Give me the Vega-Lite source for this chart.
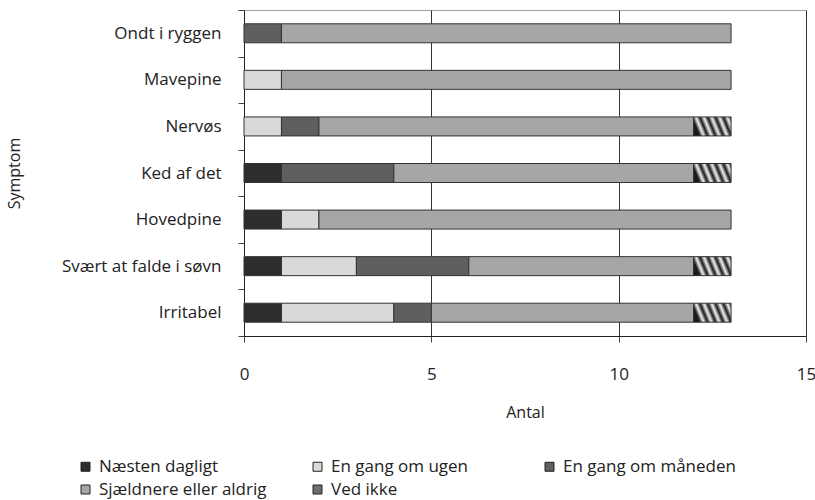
{
  "$schema": "https://vega.github.io/schema/vega-lite/v6.json",
  "width": 562,
  "height": 326,
  "autosize": "none",
  "padding": {"left": 244, "top": 10, "right": 9, "bottom": 164},
  "background": "white",
  "config": {
    "font": "Open Sans",
    "view": {"stroke": "#a0a0a0", "strokeWidth": 1},
    "axis": {"labelFont": "Open Sans", "titleFont": "Open Sans", "labelColor": "#222", "titleColor": "#222", "titleFontWeight": "normal"},
    "legend": {"labelFont": "Open Sans", "labelColor": "#222"}
  },
  "data": {
    "values": [
      {"Symptom": "Ondt i ryggen", "Svar": "En gang om måneden", "nr": 3, "Antal": 1},
      {"Symptom": "Ondt i ryggen", "Svar": "Sjældnere eller aldrig", "nr": 4, "Antal": 12},
      {"Symptom": "Mavepine", "Svar": "En gang om ugen", "nr": 2, "Antal": 1},
      {"Symptom": "Mavepine", "Svar": "Sjældnere eller aldrig", "nr": 4, "Antal": 12},
      {"Symptom": "Nervøs", "Svar": "En gang om ugen", "nr": 2, "Antal": 1},
      {"Symptom": "Nervøs", "Svar": "En gang om måneden", "nr": 3, "Antal": 1},
      {"Symptom": "Nervøs", "Svar": "Sjældnere eller aldrig", "nr": 4, "Antal": 10},
      {"Symptom": "Nervøs", "Svar": "Ved ikke", "nr": 5, "Antal": 1},
      {"Symptom": "Ked af det", "Svar": "Næsten dagligt", "nr": 1, "Antal": 1},
      {"Symptom": "Ked af det", "Svar": "En gang om måneden", "nr": 3, "Antal": 3},
      {"Symptom": "Ked af det", "Svar": "Sjældnere eller aldrig", "nr": 4, "Antal": 8},
      {"Symptom": "Ked af det", "Svar": "Ved ikke", "nr": 5, "Antal": 1},
      {"Symptom": "Hovedpine", "Svar": "Næsten dagligt", "nr": 1, "Antal": 1},
      {"Symptom": "Hovedpine", "Svar": "En gang om ugen", "nr": 2, "Antal": 1},
      {"Symptom": "Hovedpine", "Svar": "Sjældnere eller aldrig", "nr": 4, "Antal": 11},
      {"Symptom": "Svært at falde i søvn", "Svar": "Næsten dagligt", "nr": 1, "Antal": 1},
      {"Symptom": "Svært at falde i søvn", "Svar": "En gang om ugen", "nr": 2, "Antal": 2},
      {"Symptom": "Svært at falde i søvn", "Svar": "En gang om måneden", "nr": 3, "Antal": 3},
      {"Symptom": "Svært at falde i søvn", "Svar": "Sjældnere eller aldrig", "nr": 4, "Antal": 6},
      {"Symptom": "Svært at falde i søvn", "Svar": "Ved ikke", "nr": 5, "Antal": 1},
      {"Symptom": "Irritabel", "Svar": "Næsten dagligt", "nr": 1, "Antal": 1},
      {"Symptom": "Irritabel", "Svar": "En gang om ugen", "nr": 2, "Antal": 3},
      {"Symptom": "Irritabel", "Svar": "En gang om måneden", "nr": 3, "Antal": 1},
      {"Symptom": "Irritabel", "Svar": "Sjældnere eller aldrig", "nr": 4, "Antal": 7},
      {"Symptom": "Irritabel", "Svar": "Ved ikke", "nr": 5, "Antal": 1}
    ]
  },
  "mark": {"type": "bar", "size": 19, "stroke": "#333", "strokeWidth": 1},
  "encoding": {
    "y": {
      "field": "Symptom",
      "type": "nominal",
      "sort": ["Ondt i ryggen", "Mavepine", "Nervøs", "Ked af det", "Hovedpine", "Svært at falde i søvn", "Irritabel"],
      "scale": {"paddingInner": 0, "paddingOuter": 0},
      "axis": {
        "title": "Symptom",
        "titleFontSize": 16,
        "titlePadding": 39,
        "labelFontSize": 17,
        "labelPadding": 17,
        "tickSize": 6,
        "tickBand": "extent",
        "tickColor": "#444",
        "domainColor": "#222",
        "grid": false
      }
    },
    "x": {
      "field": "Antal",
      "type": "quantitative",
      "stack": "zero",
      "scale": {"domain": [0, 15], "nice": false},
      "axis": {
        "title": "Antal",
        "titleFontSize": 16,
        "titlePadding": 22,
        "values": [0, 5, 10, 15],
        "labelFlush": false,
        "labelFontSize": 17,
        "labelPadding": 24,
        "tickSize": 6,
        "tickColor": "#444",
        "domainColor": "#222",
        "grid": true,
        "gridColor": "#333",
        "gridOpacity": 1
      }
    },
    "order": {"field": "nr", "type": "quantitative"},
    "color": {
      "condition": {
        "test": "datum.Svar === 'Ved ikke'",
        "value": {"gradient": "linear", "x1": 0, "y1": 0.21, "x2": 1, "y2": 0, "stops": [
          {"offset": 0, "color": "#1a1a1a"},
          {"offset": 0.1, "color": "#f0f0f0"},
          {"offset": 0.2, "color": "#1a1a1a"},
          {"offset": 0.3, "color": "#f0f0f0"},
          {"offset": 0.4, "color": "#1a1a1a"},
          {"offset": 0.5, "color": "#f0f0f0"},
          {"offset": 0.6, "color": "#1a1a1a"},
          {"offset": 0.7, "color": "#f0f0f0"},
          {"offset": 0.8, "color": "#1a1a1a"},
          {"offset": 0.9, "color": "#f0f0f0"},
          {"offset": 1, "color": "#1a1a1a"}
        ]}
      },
      "field": "Svar",
      "type": "nominal",
      "scale": {
        "domain": ["Næsten dagligt", "En gang om ugen", "En gang om måneden", "Sjældnere eller aldrig", "Ved ikke"],
        "range": ["#2d2d2d", "#d9d9d9", "#5f5f5f", "#a6a6a6", "#6e6e6e"]
      },
      "legend": {
        "title": null,
        "orient": "none",
        "legendX": -167,
        "legendY": 448,
        "direction": "horizontal",
        "columns": 3,
        "gridAlign": "all",
        "columnPadding": 37,
        "rowPadding": 5,
        "symbolType": "square",
        "symbolSize": 81,
        "symbolStrokeColor": "#222",
        "symbolStrokeWidth": 1,
        "symbolOpacity": 1,
        "labelFontSize": 17,
        "labelOffset": 5,
        "labelLimit": 300
      }
    }
  }
}
